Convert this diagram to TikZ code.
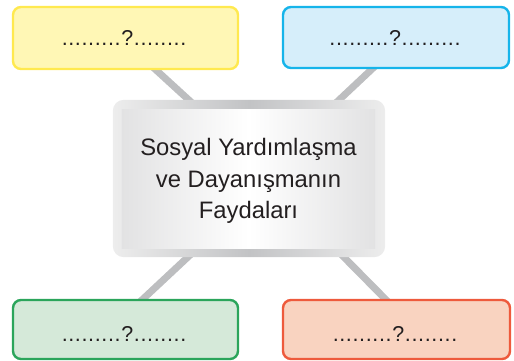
\documentclass[tikz,border=0pt]{standalone}
\usepackage{fontspec}
\setmainfont{Liberation Sans}
\usetikzlibrary{calc,backgrounds}
\definecolor{txt}{HTML}{231F20}
\definecolor{conn}{HTML}{BDBEC0}
\definecolor{yfill}{HTML}{FFF7B5}
\definecolor{ydraw}{HTML}{FFE94F}
\definecolor{bfill}{HTML}{D6EEFA}
\definecolor{bdraw}{HTML}{16B4EA}
\definecolor{gfill}{HTML}{D5E9D9}
\definecolor{gdraw}{HTML}{2BA55B}
\definecolor{rfill}{HTML}{F9D3C0}
\definecolor{rdraw}{HTML}{EE5A3C}
\definecolor{frdark}{HTML}{C2C3C5}
\definecolor{frlight}{HTML}{EDEDED}
\definecolor{pnedge}{HTML}{E2E2E3}
\tikzset{
  qbox/.style={rounded corners=8pt, line width=2.4pt, minimum width=225pt,
    minimum height=61pt, inner sep=0pt},
  qtext/.style={text=txt, anchor=base,
    font=\fontsize{21.5pt}{24pt}\selectfont\addfontfeature{LetterSpace=3}},
  connector/.style={conn, line width=7pt},
}
\begin{document}
\begin{tikzpicture}[x=1pt,y=-1pt]
\useasboundingbox (0,0) rectangle (514,361);
% center frame
\node[minimum width=272pt, minimum height=157pt, inner sep=0pt] (c) at (249,178.5) {};
\shade[rounded corners=11pt, left color=frlight, right color=frlight, middle color=frdark]
  (c.south west) rectangle (c.north east);
\node[minimum width=253pt, minimum height=138pt, inner sep=0pt] (cin) at (248.5,179) {};
\shade[left color=pnedge, right color=pnedge, middle color=white]
  (cin.south west) rectangle (cin.north east);
\node[text=txt, align=center, font=\fontsize{23.8pt}{31.5pt}\selectfont] (ct) at (248.5,181)
  {Sosyal Yardımlaşma\\ve Dayanışmanın\\Faydaları};
% outer boxes
\node[qbox, fill=yfill, draw=ydraw, minimum height=62pt] (tl) at (125.5,38) {};
\node[qbox, fill=bfill, draw=bdraw, minimum width=226pt] (tr) at (396,37.5) {};
\node[qbox, fill=gfill, draw=gdraw, minimum height=59pt] (bl) at (125.5,329.5) {};
\node[qbox, fill=rfill, draw=rdraw, minimum width=227pt, minimum height=59pt] (br) at (396.5,329.5) {};
\node[qtext] (tlt) at (124,46) {.........?........};
\node[qtext] (trt) at (395,46) {.........?.........};
\node[qtext] (blt) at (124,341) {.........?........};
\node[qtext] (brt) at (395,341) {.........?........};
% connectors
\coordinate (tl-e) at ($(tl.south)+(27.5,-3)$);
\coordinate (c-tl) at ($(c.north)+(-56,4)$);
\coordinate (tr-e) at ($(tr.south)+(-21,-3)$);
\coordinate (c-tr) at ($(c.north)+(86,4)$);
\coordinate (bl-e) at ($(bl.north)+(14.5,3)$);
\coordinate (c-bl) at ($(c.south)+(-57,-4)$);
\coordinate (br-e) at ($(br.north)+(-8.5,3)$);
\coordinate (c-br) at ($(c.south)+(91,-4)$);
\begin{scope}[on background layer]
\draw[connector] (tl-e) -- (c-tl);
\draw[connector] (tr-e) -- (c-tr);
\draw[connector] (bl-e) -- (c-bl);
\draw[connector] (br-e) -- (c-br);
\end{scope}
\end{tikzpicture}
\end{document}
